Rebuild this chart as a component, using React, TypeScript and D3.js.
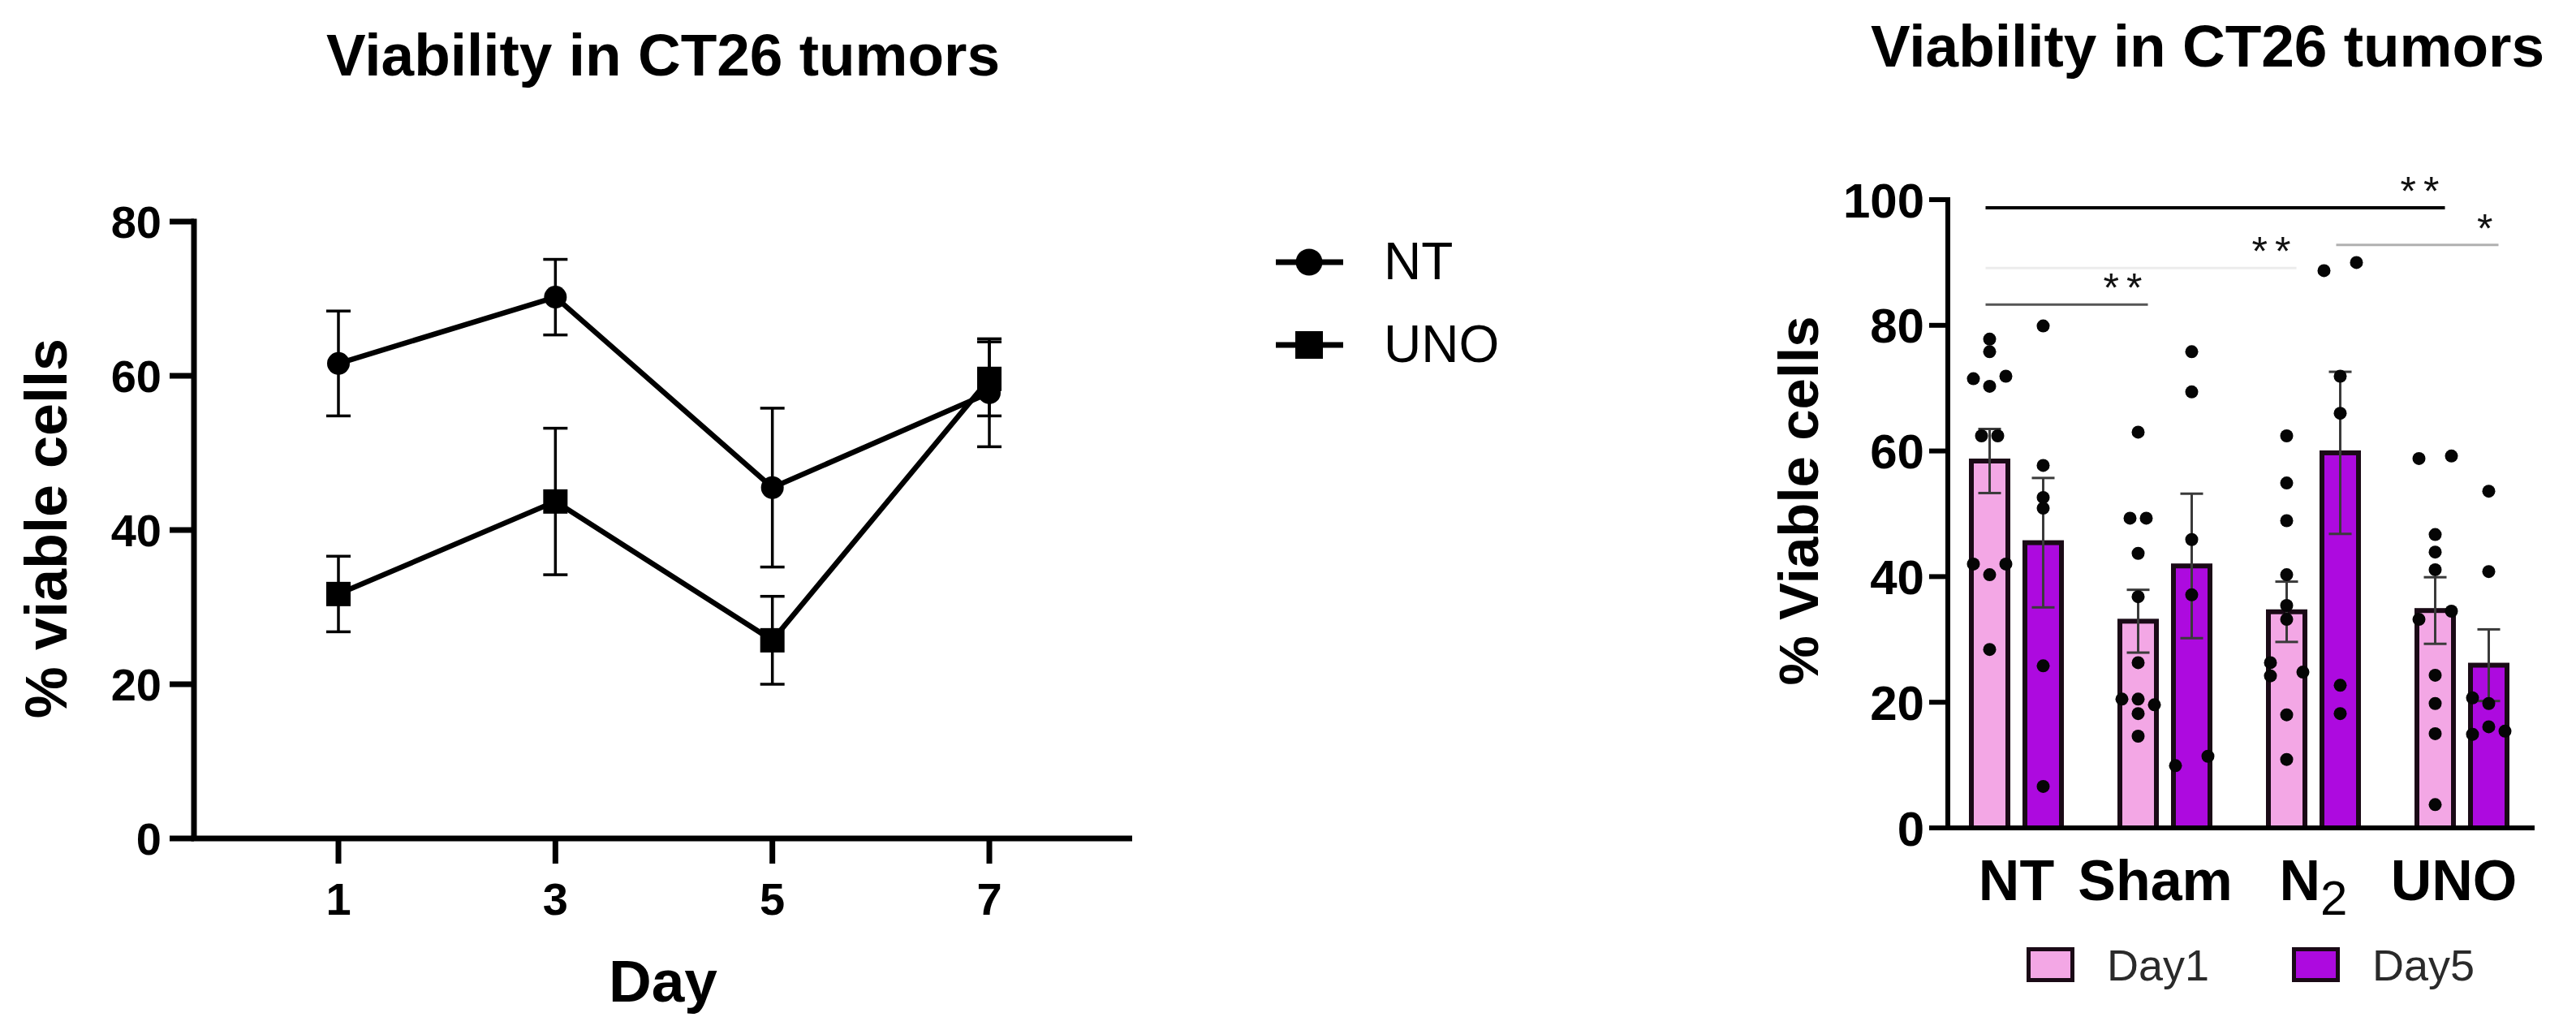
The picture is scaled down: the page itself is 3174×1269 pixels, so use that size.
import React from "react";
import * as d3 from "d3";

// ---------- Left chart data ----------
const days = [1, 3, 5, 7];
const ntMean = [61.6, 70.2, 45.5, 57.8];
const ntSem = [6.8, 4.9, 10.3, 7.0];
const unoMean = [31.7, 43.7, 25.7, 59.6];
const unoSem = [4.9, 9.5, 5.7, 4.8];
const leftYTicks = [0, 20, 40, 60, 80];
const leftSeries = ["NT", "UNO"];

// ---------- Right chart data ----------
const groups = ["NT", "Sham", "N2", "UNO"];
const dayKeys = ["Day1", "Day5"];
const day1Mean = [58.4, 32.9, 34.4, 34.6];
const day1Sem = [5.1, 5.0, 4.8, 5.3];
const day5Mean = [45.4, 41.7, 59.7, 25.9];
const day5Sem = [10.3, 11.5, 12.9, 5.7];
const rightYTicks = [0, 20, 40, 60, 80, 100];

// individual points: [value, lane]
const day1Points: number[][][] = [
  [[77.8, 0], [75.8, 0], [71.5, -1], [71.9, 1], [70.3, 0], [62.4, -0.5], [62.4, 0.5], [42.0, -1], [42.0, 1], [40.3, 0], [28.4, 0]],
  [[63.0, 0], [49.3, -0.5], [49.3, 0.5], [43.7, 0], [36.8, 0], [26.3, 0], [20.5, -1], [20.5, 0], [19.6, 1], [18.2, 0], [14.6, 0]],
  [[62.4, 0], [54.9, 0], [48.9, 0], [40.3, 0], [35.4, 0], [33.2, 0], [26.3, -1], [24.2, -1], [24.8, 1], [18.0, 0], [10.9, 0]],
  [[58.8, -1], [59.2, 1], [46.7, 0], [43.9, 0], [41.1, 0], [33.2, -1], [34.5, 1], [24.3, 0], [19.8, 0], [15.0, 0], [3.7, 0]],
];
const day5Points: number[][][] = [
  [[79.9, 0], [57.7, 0], [52.6, 0], [50.9, 0], [25.8, 0], [6.6, 0]],
  [[75.8, 0], [69.4, 0], [45.9, 0], [37.1, 0], [9.9, -1], [11.4, 1]],
  [[88.7, -1], [90.0, 1], [71.9, 0], [66.0, 0], [22.7, 0], [18.2, 0]],
  [[53.6, 0], [40.8, 0], [20.7, -1], [19.8, 0], [16.1, 0], [14.9, -1], [15.4, 1]],
];

// significance comparisons
const sigGroupA = ["NT", "N2", "NT", "NT"];
const sigDayA = ["Day1", "Day5", "Day1", "Day1"];
const sigGroupB = ["UNO", "UNO", "N2", "Sham"];
const sigDayB = ["Day1", "Day5", "Day1", "Day1"];
const sigValue = [98.7, 92.8, 89.1, 83.3];
const sigLabel = ["**", "*", "**", "**"];
const sigColor = ["#000000", "#b0b0b0", "#ececec", "#555555"];

const FONT = "'Liberation Sans', Arial, Helvetica, sans-serif";
const PINK = "#F3A7E5";
const PURPLE = "#AD0ADF";
const EDGE = "#1a0a16";

export default function App() {
  // left scales
  const lx = d3.scaleLinear().domain([1, 7]).range([417, 1219]);
  const ly = d3.scaleLinear().domain([0, 80]).range([1033, 273]);
  const axX = 239;
  const line = d3
    .line<{ d: number; v: number }>()
    .x((p) => lx(p.d))
    .y((p) => ly(p.v));
  const ntData = days.map((d, i) => ({ d, v: ntMean[i], s: ntSem[i] }));
  const unoData = days.map((d, i) => ({ d, v: unoMean[i], s: unoSem[i] }));

  // right scales
  const bx0 = d3.scaleBand().domain(groups).range([2393, 3125]).paddingInner(0).paddingOuter(0);
  const bx1 = d3.scaleBand().domain(dayKeys).range([33, 150]).paddingInner(0.227).paddingOuter(0);
  const ry = d3.scaleLinear().domain([0, 100]).range([1020, 246]);
  const rAxX = 2400;
  const barSW = 6;
  const barCenter = (g: string, d: string) => (bx0(g) as number) + (bx1(d) as number) + bx1.bandwidth() / 2;
  const laneW = 20;

  const means = [day1Mean, day5Mean];
  const sems = [day1Sem, day5Sem];
  const pts = [day1Points, day5Points];
  const fills = [PINK, PURPLE];

  const errBar = (x: number, yTop: number, yBot: number, cap: number, sw: number, color: string, key: string) => (
    <g key={key} stroke={color} strokeWidth={sw} fill="none">
      <line x1={x} x2={x} y1={yTop} y2={yBot} />
      <line x1={x - cap / 2} x2={x + cap / 2} y1={yTop} y2={yTop} />
      <line x1={x - cap / 2} x2={x + cap / 2} y1={yBot} y2={yBot} />
    </g>
  );

  return (
    <svg width={3174} height={1269} style={{ position: "absolute", left: 0, top: 0, background: "#fff" }} fontFamily={FONT}>
      <rect x={0} y={0} width={3174} height={1269} fill="#fff" />
      {/* ===== LEFT CHART ===== */}
      <text x={817} y={93} fontSize={73} fontWeight="bold" textAnchor="middle" fill="#000">
        Viability in CT26 tumors
      </text>
      <text transform={`translate(82,651) rotate(-90)`} fontSize={72} fontWeight="bold" textAnchor="middle" fill="#000">
        % viable cells
      </text>
      <text x={817} y={1234} fontSize={73} fontWeight="bold" textAnchor="middle" fill="#000">
        Day
      </text>
      {/* axes */}
      <g stroke="#000" strokeWidth={7} fill="none">
        <line x1={axX} x2={axX} y1={ly(80) - 3.5} y2={ly(0)} />
        <line x1={axX - 3.5} x2={1395} y1={ly(0)} y2={ly(0)} />
        {leftYTicks.map((t) => (
          <line key={"lyt" + t} x1={axX - 30} x2={axX} y1={ly(t)} y2={ly(t)} />
        ))}
        {days.map((d) => (
          <line key={"lxt" + d} x1={lx(d)} x2={lx(d)} y1={ly(0)} y2={ly(0) + 31} />
        ))}
      </g>
      {leftYTicks.map((t) => (
        <text key={"lyl" + t} x={199} y={ly(t)} dy="0.36em" fontSize={56} fontWeight="bold" textAnchor="end">
          {t}
        </text>
      ))}
      {days.map((d) => (
        <text key={"lxl" + d} x={lx(d)} y={1127} fontSize={56} fontWeight="bold" textAnchor="middle">
          {d}
        </text>
      ))}
      {/* error bars */}
      {ntData.map((p, i) => errBar(lx(p.d), ly(p.v + p.s), ly(p.v - p.s), 30, 3.5, "#000", "nte" + i))}
      {unoData.map((p, i) => errBar(lx(p.d), ly(p.v + p.s), ly(p.v - p.s), 30, 3.5, "#000", "unoe" + i))}
      {/* lines */}
      <path d={line(ntData) || ""} fill="none" stroke="#000" strokeWidth={6.5} strokeLinejoin="miter" />
      <path d={line(unoData) || ""} fill="none" stroke="#000" strokeWidth={6.5} strokeLinejoin="miter" />
      {unoData.map((p, i) => (
        <rect key={"uno" + i} x={lx(p.d) - 15} y={ly(p.v) - 15} width={30} height={30} fill="#000" />
      ))}
      {ntData.map((p, i) => (
        <circle key={"nt" + i} cx={lx(p.d)} cy={ly(p.v)} r={14} fill="#000" />
      ))}
      {/* left legend */}
      {leftSeries.map((s, i) => {
        const cy = 323 + i * 102;
        return (
          <g key={"lg" + s}>
            <line x1={1572} x2={1655} y1={cy} y2={cy} stroke="#000" strokeWidth={7} />
            {i === 0 ? (
              <circle cx={1613} cy={cy} r={16.5} fill="#000" />
            ) : (
              <rect x={1613 - 17} y={cy - 17} width={34} height={34} fill="#000" />
            )}
            <text x={1705} y={cy + 21} fontSize={64} fill="#000">
              {s}
            </text>
          </g>
        );
      })}

      {/* ===== RIGHT CHART ===== */}
      <text x={2720} y={82} fontSize={73} fontWeight="bold" textAnchor="middle" fill="#000">
        Viability in CT26 tumors
      </text>
      <text transform={`translate(2240,617) rotate(-90)`} fontSize={69} fontWeight="bold" textAnchor="middle" fill="#000">
        % Viable cells
      </text>
      {/* bars */}
      {groups.map((g, gi) =>
        dayKeys.map((d, di) => {
          const x0 = (bx0(g) as number) + (bx1(d) as number);
          const m = means[di][gi];
          return (
            <rect
              key={"bar" + g + d}
              x={x0 + barSW / 2}
              y={ry(m)}
              width={bx1.bandwidth() - barSW}
              height={ry(0) - ry(m)}
              fill={fills[di]}
              stroke={EDGE}
              strokeWidth={barSW}
            />
          );
        })
      )}
      {/* error bars */}
      {groups.map((g, gi) =>
        dayKeys.map((d, di) => {
          const m = means[di][gi];
          const s = sems[di][gi];
          return errBar(barCenter(g, d), ry(m + s), ry(m - s), 28, 3, "#3a3a3a", "rerr" + g + d);
        })
      )}
      {/* dots */}
      {groups.map((g, gi) =>
        dayKeys.map((d, di) =>
          pts[di][gi].map((p, k) => (
            <circle key={"pt" + g + d + k} cx={barCenter(g, d) + p[1] * laneW} cy={ry(p[0])} r={8} fill="#050505" />
          ))
        )
      )}
      {/* axes */}
      <g stroke="#000" strokeWidth={6} fill="none">
        <line x1={rAxX} x2={rAxX} y1={ry(100) - 3} y2={ry(0)} />
        <line x1={rAxX - 3} x2={3123} y1={ry(0)} y2={ry(0)} />
        {rightYTicks.map((t) => (
          <line key={"ryt" + t} x1={rAxX - 23} x2={rAxX} y1={ry(t)} y2={ry(t)} />
        ))}
      </g>
      {rightYTicks.map((t) => (
        <text key={"ryl" + t} x={2371} y={ry(t)} dy="0.36em" fontSize={60} fontWeight="bold" textAnchor="end">
          {t}
        </text>
      ))}
      {/* category labels */}
      {groups.map((g) => {
        const cx = (bx0(g) as number) + bx0.bandwidth() / 2;
        if (g === "N2") {
          return (
            <text key={"cat" + g} x={cx} y={1109} fontSize={70} fontWeight="bold" textAnchor="middle">
              N
              <tspan fontSize={60} fontWeight="normal" dy={18}>
                2
              </tspan>
            </text>
          );
        }
        return (
          <text key={"cat" + g} x={cx - (g === "Sham" ? 12 : g === "UNO" ? 10 : 0)} y={1109} fontSize={70} fontWeight="bold" textAnchor="middle">
            {g}
          </text>
        );
      })}
      {/* significance */}
      {sigValue.map((v, i) => {
        const xa = barCenter(sigGroupA[i], sigDayA[i]);
        const xb = barCenter(sigGroupB[i], sigDayB[i]);
        const y = ry(v);
        return (
          <g key={"sig" + i}>
            <line x1={xa - 5} x2={xb + 12} y1={y} y2={y} stroke={sigColor[i]} strokeWidth={i === 0 ? 4 : 3} />
            <text x={xb + 14} y={y - 3} fontSize={50} textAnchor="end" fill="#111" letterSpacing={9}>
              {sigLabel[i]}
            </text>
          </g>
        );
      })}
      {/* right legend */}
      {dayKeys.map((d, i) => {
        const bx = 2497 + i * 327;
        return (
          <g key={"rlg" + d}>
            <rect x={bx + 2.5} y={1167 + 2.5} width={54} height={38} fill={fills[i]} stroke={EDGE} strokeWidth={5} />
            <text x={bx + 99} y={1208} fontSize={54} fill="#2a2a2a">
              {d}
            </text>
          </g>
        );
      })}
    </svg>
  );
}
